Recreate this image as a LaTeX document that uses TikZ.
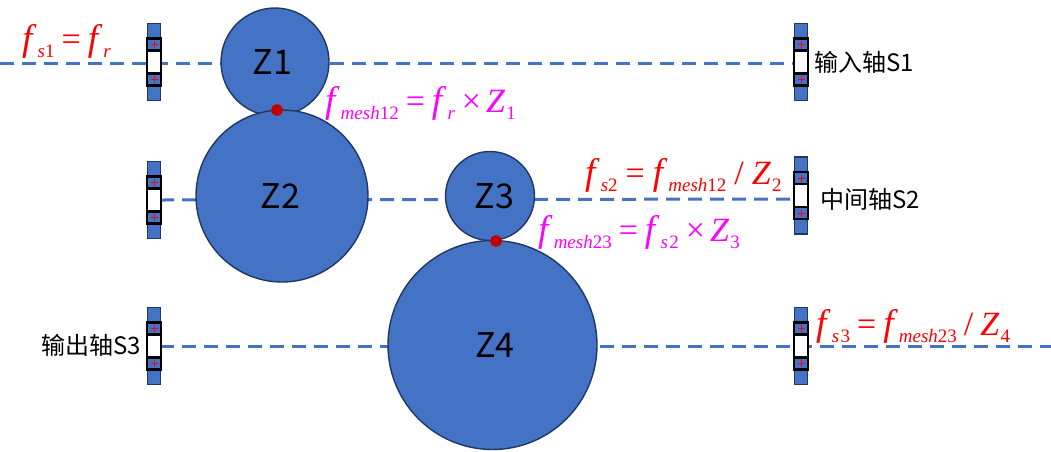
\documentclass[tikz,border=0pt]{standalone}
\usepackage{fontspec}
\setmainfont{Liberation Serif}
\setsansfont{Liberation Sans}
\newfontfamily\cjk{Noto Sans CJK SC}
\definecolor{gearblue}{HTML}{4472C4}
\definecolor{gearedge}{HTML}{1F3864}
\definecolor{meshred}{HTML}{C00000}
\definecolor{eqpink}{HTML}{FF00FF}
\tikzset{
	gear/.style={circle, draw=gearedge, line width=1.4pt, fill=gearblue, inner sep=0pt, minimum size=#1, font=\cjk\fontsize{34}{34}\selectfont},
	meshdot/.style={circle, fill=meshred, inner sep=0pt, minimum size=11.5pt},
	shaft/.style={draw=gearblue, line width=3pt, dash pattern=on 14pt off 8pt},
	axisname/.style={font=\cjk\fontsize{24}{24}\selectfont, inner sep=0pt},
	eqred/.style={text=red, font=\fontsize{34}{34}\selectfont, inner sep=0pt},
	eqpinkstyle/.style={text=eqpink, font=\fontsize{34}{34}\selectfont, inner sep=0pt}
}
\newcommand{\lowered}[1]{\kern1pt\raisebox{-7pt}{\fontsize{19}{19}\selectfont #1}}
\newcommand{\fvar}[1]{{\fontsize{37}{37}\selectfont\textit{f}}\lowered{#1}}
\newcommand{\zvar}[1]{\textit{Z}\lowered{#1}}
\newcommand{\bearing}[2]{
	\draw[draw=gearedge, line width=1.4pt, fill=gearblue] (#1-6.5,#2-38.5) rectangle (#1+6.5,#2+38.5);
	\draw[line width=2.2pt, fill=gearblue] (#1-7,#2-23.5) rectangle (#1+7,#2+23.5);
	\draw[line width=2.2pt, fill=white] (#1-7,#2-11.5) rectangle (#1+7,#2+11.5);
	\foreach \s in {-1,1} {
		\draw[red, line width=0.9pt] (#1-3.5,#2+\s*17.5) -- (#1+3.5,#2+\s*17.5);
		\draw[red, line width=0.9pt] (#1,#2+\s*17.5-3.5) -- (#1,#2+\s*17.5+3.5);
	}
}
\begin{document}
\begin{tikzpicture}[x=1pt,y=-1pt]
\useasboundingbox (0,0) rectangle (1051,451);

%shafts
\coordinate (s1l) at (0,63);
\coordinate (s1r) at (795,63);
\coordinate (s2l) at (160,200);
\coordinate (s2r) at (790,199);
\coordinate (s3l) at (160,346);
\coordinate (s3r) at (1051,346);
\draw[shaft] (s1l) -- (s1r);
\draw[shaft] (s2l) -- (s2r);
\draw[shaft] (s3l) -- (s3r);

%bearings
\bearing{154}{62}
\bearing{154}{200}
\bearing{154}{346}
\bearing{801}{62}
\bearing{801}{195.5}
\bearing{801}{346}

%gears
\node[gear=108pt, text depth=0pt] (z1) at (275,62) {\kern-5pt Z1};
\node[gear=172pt] (z2) at (282,196) {\kern-3pt Z2};
\node[gear=89pt] (z3) at (490,196) {\kern9pt Z3};
\node[gear=209pt] (z4) at (492.5,345) {\kern5pt Z4};
\node[meshdot] (mesh12) at (277,110) {};
\node[meshdot] (mesh23) at (496,241) {};

%axis names
\node[axisname, anchor=west] (name1) at (814,62) {输入轴S1};
\node[axisname, anchor=west] (name2) at (820,199) {中间轴S2};
\node[axisname, anchor=west] (name3) at (41,345) {输出轴S3};

%equations
\node[eqred, anchor=base west] (eq1) at (22,50) {\fvar{\textit{s}1}\kern7pt=\kern7pt\fvar{\textit{r}}};
\node[eqpinkstyle, anchor=base west] (eq2) at (325,112) {\fvar{\textit{mesh}12}\kern7pt=\kern7pt\fvar{\textit{r}}\kern7pt×\kern5pt\zvar{1}};
\node[eqred, anchor=base west] (eq3) at (585,184) {\fvar{\textit{s}2}\kern8pt=\kern8pt\fvar{\textit{mesh}12}\kern8pt/\kern8pt\zvar{2}};
\node[eqpinkstyle, anchor=base west] (eq4) at (538,241) {\fvar{\textit{mesh}23}\kern7pt=\kern7pt\fvar{\textit{s}\kern1.5pt 2}\kern7pt×\kern5pt\zvar{3}};
\node[eqred, anchor=base west] (eq5) at (816,335) {\fvar{\textit{s}\kern1.5pt 3}\kern7pt=\kern7pt\fvar{\textit{mesh}23}\kern7pt/\kern7pt\zvar{4}};
\end{tikzpicture}
\end{document}
